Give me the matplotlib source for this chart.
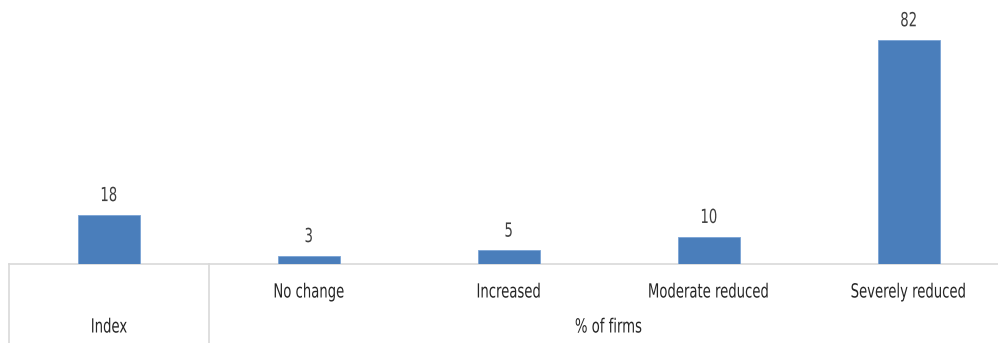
import matplotlib.pyplot as plt
from matplotlib.patheffects import AbstractPathEffect
from matplotlib.transforms import Affine2D

categories = ['', 'No change', 'Increased', 'Moderate reduced', 'Severely reduced']
values = [18, 3, 5, 10, 82]
groups = ['Index', '% of firms']
group_sizes = [1, 4]


class Condense(AbstractPathEffect):
    # squeeze glyphs horizontally around their centre (no condensed font installed)
    def __init__(self, sx):
        super().__init__()
        self.sx = sx

    def draw_path(self, renderer, gc, tpath, affine, rgbFace=None):
        v = tpath.vertices
        cx = (v[:, 0].min() + v[:, 0].max()) / 2 if len(v) else 0
        t = Affine2D().translate(-cx, 0).scale(self.sx, 1).translate(cx, 0) + affine
        renderer.draw_path(gc, tpath, t, rgbFace)


narrow = [Condense(0.68)]
FS = 14

W, H = 998, 343
fig = plt.figure(figsize=[W / 100, H / 100], dpi=100)
left, right, base = 9, 1009, 264
ax = fig.add_axes([left / W, (H - base) / H, (right - left) / W, base / H])

x = list(range(len(values)))
ax.bar(x, values, width=0.31, color='#4a7ebb', edgecolor='#7aa3d6', linewidth=0.6, zorder=3)
for xi, v in zip(x, values):
    ax.annotate(str(v), (xi, v), xytext=(0, 7), textcoords='offset points',
                ha='center', va='bottom', fontsize=FS, color='#404040',
                path_effects=narrow)

ax.set_xlim(-0.5, len(values) - 0.5)
ax.set_ylim(0, 264 / (224 / 82))
ax.set_xticks([])
ax.set_yticks([])
for s in ['top', 'right', 'left']:
    ax.spines[s].set_visible(False)
ax.spines['bottom'].set_color('#d9d9d9')
ax.spines['bottom'].set_linewidth(1.2)

trans = ax.get_xaxis_transform()
# category labels
for xi, c in zip(x, categories):
    ax.text(xi, -(292 - base) / base, c, transform=trans, ha='center', va='center',
            fontsize=FS, color='#262626', clip_on=False, path_effects=narrow)

# group labels and separators
start = 0
for g, n in zip(groups, group_sizes):
    mid = start + (n - 1) / 2
    ax.text(mid, -(327 - base) / base, g, transform=trans, ha='center', va='center',
            fontsize=FS, color='#262626', clip_on=False, path_effects=narrow)
    start += n
for b in [-0.5, 0.5, 4.5]:
    ax.plot([b, b], [0, -(H - base) / base], transform=trans, color='#d9d9d9',
            lw=1.2, clip_on=False)

fig.savefig('out.png', dpi=100)
